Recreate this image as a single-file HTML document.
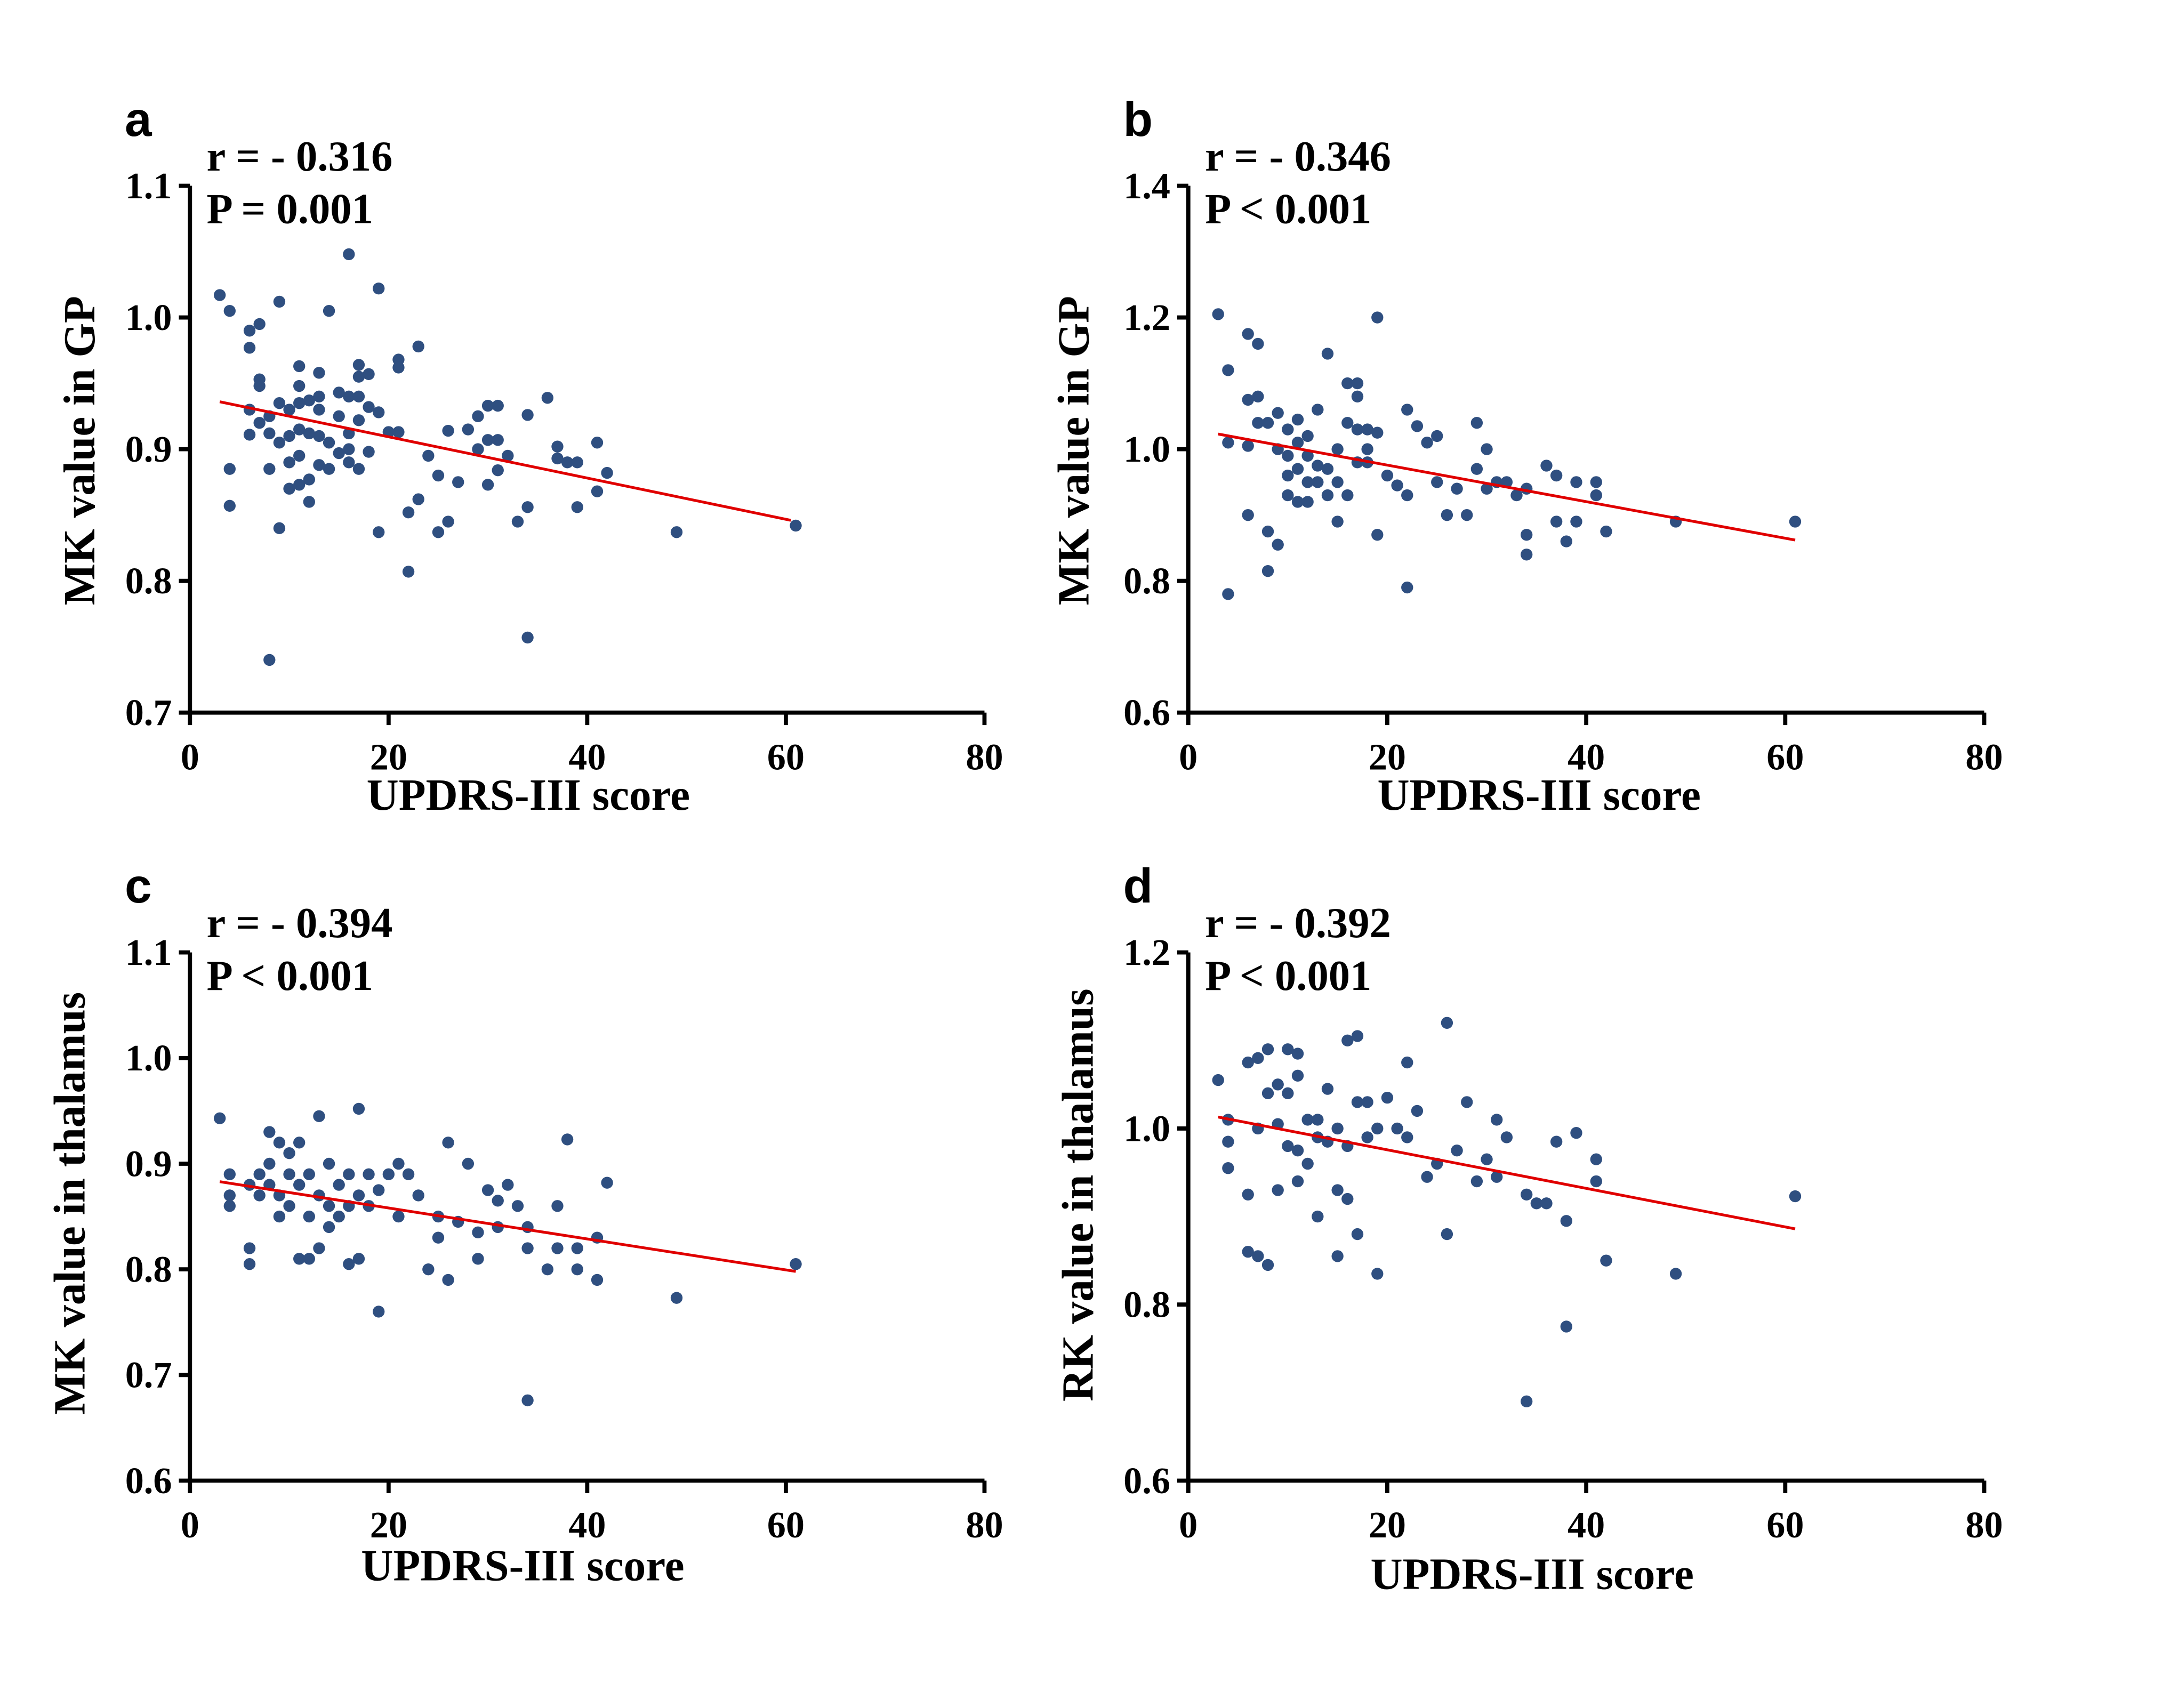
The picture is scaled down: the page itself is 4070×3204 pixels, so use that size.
<!DOCTYPE html>
<html><head><meta charset="utf-8"><style>html,body{margin:0;padding:0;background:#fff}svg{display:block}</style></head>
<body>
<svg id="fig" width="4070" height="3204" viewBox="0 0 1565 1232" xmlns="http://www.w3.org/2000/svg" font-family="Liberation Serif, serif" font-weight="bold"></svg>
<script>
const xTicks=[0,20,40,60,80];
const aTicks=[0.7,0.8,0.9,1.0,1.1];
const bTicks=[0.6,0.8,1.0,1.2,1.4];
const cTicks=[0.6,0.7,0.8,0.9,1.0,1.1];
const dTicks=[0.6,0.8,1.0,1.2];
const aX=[3,4,4,4,6,6,7,6,6,7,7,7,8,8,8,8,9,9,9,9,10,10,10,10,11,11,11,11,11,11,12,12,12,12,13,13,13,13,13,14,14,14,15,15,15,16,16,16,16,16,17,17,17,17,17,18,18,18,19,19,19,20,21,21,21,22,22,23,23,24,25,25,26,26,27,28,29,29,30,30,30,31,31,31,32,33,34,34,34,36,37,37,38,39,39,41,41,42,49,61];
const aY=[1.017,1.005,0.885,0.857,0.99,0.977,0.995,0.93,0.911,0.953,0.948,0.92,0.925,0.912,0.885,0.74,1.012,0.935,0.905,0.84,0.93,0.91,0.89,0.87,0.963,0.948,0.935,0.915,0.895,0.873,0.937,0.912,0.877,0.86,0.958,0.94,0.93,0.91,0.888,1.005,0.905,0.885,0.943,0.925,0.897,1.048,0.94,0.912,0.9,0.89,0.964,0.955,0.94,0.922,0.885,0.957,0.932,0.898,1.022,0.928,0.837,0.913,0.968,0.962,0.913,0.852,0.807,0.978,0.862,0.895,0.88,0.837,0.914,0.845,0.875,0.915,0.925,0.9,0.933,0.907,0.873,0.933,0.907,0.884,0.895,0.845,0.926,0.856,0.757,0.939,0.902,0.893,0.89,0.89,0.856,0.905,0.868,0.882,0.837,0.842];
const aFit=[[3,0.936],[60.5,0.846]];
const bX=[3,4,4,4,6,6,6,6,7,7,7,8,8,8,9,9,9,10,10,10,10,11,11,11,11,12,12,12,12,13,13,13,14,14,14,15,15,15,16,16,16,17,17,17,17,18,18,18,19,19,19,20,21,22,22,22,23,24,25,25,26,27,28,29,29,30,30,31,32,33,34,34,34,36,37,37,38,39,39,41,41,42,49,61];
const bY=[1.205,1.12,1.01,0.78,1.175,1.075,1.005,0.9,1.16,1.08,1.04,1.04,0.875,0.815,1.055,1.0,0.855,1.03,0.99,0.96,0.93,1.045,1.01,0.97,0.92,1.02,0.99,0.95,0.92,1.06,0.975,0.95,1.145,0.97,0.93,1.0,0.95,0.89,1.1,1.04,0.93,1.1,1.08,1.03,0.98,1.03,1.0,0.98,1.2,1.025,0.87,0.96,0.945,1.06,0.79,0.93,1.035,1.01,1.02,0.95,0.9,0.94,0.9,1.04,0.97,1.0,0.94,0.95,0.95,0.93,0.94,0.87,0.84,0.975,0.96,0.89,0.86,0.95,0.89,0.95,0.93,0.875,0.89,0.89];
const bFit=[[3,1.023],[61,0.862]];
const cX=[3,4,4,4,6,6,6,7,7,8,8,8,9,9,9,10,10,10,11,11,11,12,12,12,13,13,13,14,14,14,15,15,16,16,16,17,17,17,18,18,19,19,20,21,21,22,23,24,25,25,26,26,27,28,29,29,30,31,31,32,33,34,34,34,36,37,37,38,39,39,41,41,42,49,61];
const cY=[0.943,0.89,0.87,0.86,0.88,0.82,0.805,0.89,0.87,0.93,0.9,0.88,0.92,0.87,0.85,0.91,0.89,0.86,0.92,0.88,0.81,0.89,0.85,0.81,0.945,0.87,0.82,0.9,0.86,0.84,0.88,0.85,0.89,0.86,0.805,0.952,0.87,0.81,0.89,0.86,0.875,0.76,0.89,0.9,0.85,0.89,0.87,0.8,0.85,0.83,0.92,0.79,0.845,0.9,0.835,0.81,0.875,0.865,0.84,0.88,0.86,0.84,0.82,0.676,0.8,0.86,0.82,0.923,0.82,0.8,0.83,0.79,0.882,0.773,0.805];
const cFit=[[3,0.883],[61,0.798]];
const dX=[3,4,4,4,6,6,6,7,7,7,8,8,8,9,9,9,10,10,10,11,11,11,11,12,12,13,13,13,14,14,15,15,15,16,16,16,17,17,17,18,18,19,19,20,21,22,22,23,24,25,26,26,27,28,29,30,31,31,32,34,34,35,36,37,38,38,39,41,41,42,49,61];
const dY=[1.055,1.01,0.985,0.955,1.075,0.925,0.86,1.08,1.0,0.855,1.09,1.04,0.845,1.05,1.005,0.93,1.09,1.04,0.98,1.085,1.06,0.975,0.94,1.01,0.96,1.01,0.99,0.9,1.045,0.985,1.0,0.93,0.855,1.1,0.98,0.92,1.105,1.03,0.88,1.03,0.99,1.0,0.835,1.035,1.0,1.075,0.99,1.02,0.945,0.96,1.12,0.88,0.975,1.03,0.94,0.965,1.01,0.945,0.99,0.925,0.69,0.915,0.915,0.985,0.775,0.895,0.995,0.965,0.94,0.85,0.835,0.923];
const dFit=[[3,1.013],[61,0.886]];

const NS='http://www.w3.org/2000/svg';
const svg=document.getElementById('fig');
function mk(tag,attrs,parent,txt){const e=document.createElementNS(NS,tag);for(const k in attrs)e.setAttribute(k,attrs[k]);if(txt!==undefined)e.textContent=txt;(parent||svg).appendChild(e);return e;}

function panel(p){
  const g=mk('g',{},svg);
  
  
  const sx=v=>p.x0+(v-0)/80*(p.x1-p.x0);
  const sy=v=>p.yb+(v-p.ymin)/(p.ymax-p.ymin)*(p.yt-p.yb);
  const lt=mk('text',{x:p.x0-47,y:p.yt-36,'font-family':'Liberation Sans, sans-serif','font-size':35},g,p.id);
  
  
  const st=mk('text',{x:p.x0+12,y:p.yt-11,'font-size':31},g,p.r);
  
  
  const sp=mk('text',{x:p.x0+12,y:p.yt+27,'font-size':31},g,p.pv);
  
  
  const ax=mk('path',{d:`M${p.x0},${p.yt} V${p.yb} H${p.x1}`,stroke:'#000','stroke-width':3,fill:'none'},g);
  
  
  p.yticks.forEach(v=>{
    const y=sy(v);
    mk('line',{x1:p.x0-8,x2:p.x0,y1:y,y2:y,stroke:'#000','stroke-width':3},g);
    const t=mk('text',{x:p.x0-13,y:y+9,'font-size':27,'text-anchor':'end'},g,v.toFixed(1));
    
    
  });
  xTicks.forEach(v=>{
    const x=sx(v);
    mk('line',{x1:x,x2:x,y1:p.yb,y2:p.yb+9,stroke:'#000','stroke-width':3},g);
    const t=mk('text',{x:x,y:p.yb+41,'font-size':27,'text-anchor':'middle'},g,String(v));
    
    
  });
  const xt=mk('text',{x:p.xtx,y:p.xty,'font-size':32,'text-anchor':'middle'},g,'UPDRS-III score');
  
  
  const yt=mk('text',{x:0,y:0,'font-size':32,'text-anchor':'middle',transform:`translate(${p.ytx},${p.yty}) rotate(-90)`},g,p.ylab);
  
  
  p.xs.forEach((v,i)=>{
    const c=mk('circle',{cx:sx(v),cy:sy(p.ys[i]),r:4.3,fill:'#2f4f80'},g);
    
    
  });
  const fl=mk('line',{x1:sx(p.fit[0][0]),y1:sy(p.fit[0][1]),x2:sx(p.fit[1][0]),y2:sy(p.fit[1][1]),stroke:'#e00000','stroke-width':2},g);
  
  
}
panel({id:'a',x0:137,x1:710,yt:134,yb:514,ymin:0.7,ymax:1.1,yticks:aTicks,xs:aX,ys:aY,fit:aFit,r:'r = - 0.316',pv:'P = 0.001',ylab:'MK value in GP',ytx:68,yty:325,xtx:381,xty:584});
panel({id:'b',x0:857,x1:1431,yt:134,yb:514,ymin:0.6,ymax:1.4,yticks:bTicks,xs:bX,ys:bY,fit:bFit,r:'r = - 0.346',pv:'P < 0.001',ylab:'MK value in GP',ytx:785,yty:325,xtx:1110,xty:584});
panel({id:'c',x0:137,x1:710,yt:687,yb:1068,ymin:0.6,ymax:1.1,yticks:cTicks,xs:cX,ys:cY,fit:cFit,r:'r = - 0.394',pv:'P < 0.001',ylab:'MK value in thalamus',ytx:61,yty:868,xtx:377,xty:1140});
panel({id:'d',x0:857,x1:1431,yt:687,yb:1068,ymin:0.6,ymax:1.2,yticks:dTicks,xs:dX,ys:dY,fit:dFit,r:'r = - 0.392',pv:'P < 0.001',ylab:'RK value in thalamus',ytx:788,yty:862,xtx:1105,xty:1146});
</script>
</body></html>
